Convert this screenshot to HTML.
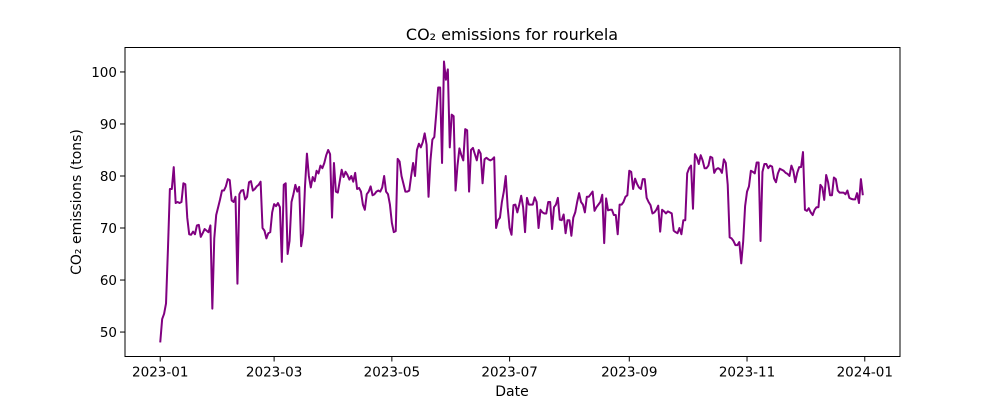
<!DOCTYPE html>
<html><head><meta charset="utf-8"><style>
body{margin:0;background:#fff;}
svg{display:block;font-family:"DejaVu Sans","Liberation Sans",sans-serif;}
</style></head><body>
<svg id="chart" width="1000" height="400">
<rect width="1000" height="400" fill="#fff"/>
<text x="512" y="40" text-anchor="middle" font-size="16">CO₂ emissions for rourkela</text>
<g id="plot"></g>
<text x="512" y="396" text-anchor="middle" font-size="14">Date</text>
<text transform="translate(81,202) rotate(-90)" text-anchor="middle" font-size="14">CO₂ emissions (tons)</text>
</svg>
<script>
const values = [48,52.5,53.5,55.5,66,77.5,77.5,81.7,74.8,75,
74.8,75,78.6,78.4,72,68.8,68.7,69.3,68.8,70.5,
70.6,68.3,69,69.8,69.5,69.2,70.5,54.5,68,72.5,
74,75.5,77.2,77.2,78,79.4,79.2,75.3,75,76,
59.3,76.5,77.2,77.3,75.5,76,78.8,79,77.2,77.5,
78,78.3,78.9,70,69.5,68,69,69.2,73,74.6,
74.2,74.8,74,63.5,78.3,78.6,65,67.5,75,76.5,
78.3,77,77.9,66.5,69,78,84.3,80,77.8,79.8,
79,81,80.5,82,81.5,82.5,84,85,84.2,72,
82.5,77,76.8,79,81.2,79.8,80.8,80.2,79.3,80,
78.9,80.6,77.5,77.7,77,74.5,73.5,76.5,77,78,
76.3,76.5,77,77.2,77,77.8,80,77,76.5,74.5,
71,69.2,69.4,83.3,82.8,80,78.5,77,77,77.2,
80,82.5,80,85,86.2,85.5,86.5,88.2,86,76,
83,87,87.5,92,97,97,82.5,102,98.5,100.5,
85.5,91.8,91.5,77.2,82,85.3,84,83,89,88.8,
77,85,85.4,84.2,83,85,84.3,78.6,83.2,83.5,
83.2,83,83.2,83.6,70,71.5,72,75,77,80,
74,70,68.7,74.4,74.5,73,74.5,76.2,74,69.2,
75.8,74.5,74.5,74.5,75.9,75,70,73.5,73,72.8,
72.8,75,75,69.8,74,74.5,75.8,71.6,71.5,72.6,
69,71.5,71.5,68.5,72,73,75,76.7,75,74.5,
73,76,76,76.5,77,73.3,74,74.5,75,76.4,
67.1,75.7,73.4,73.5,73.5,72.5,72.5,68.8,74.5,74.5,
75,76,76.3,81,80.8,77.5,79.5,78.5,77.8,77.5,
79.4,79.4,75.8,75,74.4,72.8,73,73.5,74.3,69.3,
73.5,73.2,72.8,73.2,73,72.8,69.5,69.2,69,70,
68.8,71.5,71.5,80.5,81.5,82,73.7,84.2,83.5,82.3,
84,83,81.5,81.5,82,83.7,83.5,80.6,81.3,81.5,
81.3,80.6,83.2,82.5,78.3,68.2,68,67.5,66.7,66.7,
67.3,63.2,67.4,74.2,77,78,81,80.8,80.5,82.6,
82.6,67.5,80.8,82.3,82.3,81.5,82,81.8,79.5,78.8,
80.5,81.4,81.2,81,80.6,80.4,80,82,81,78.8,
80.6,81.7,81.7,84.6,73.5,73.3,73.8,73,72.5,73.5,
74,74,78.3,77.8,75.4,80.2,78.8,76.3,76.3,79.7,
79.4,77.2,76.8,76.8,76.8,76.5,77.2,75.8,75.6,75.5,
75.5,76.7,74.8,79.4,76.3];
const xTickDays = [0,59,120,181,243,304,365];
const xTickLabels = ["2023-01","2023-03","2023-05","2023-07","2023-09","2023-11","2024-01"];
const yTicks = [50,60,70,80,90,100];

const L=125,R=900,T=47.5,B=356.5;
const dMin=-18.25,dMax=383.25;
const minV=Math.min(...values),maxV=Math.max(...values),pad=(maxV-minV)*0.05;
const vMin=minV-pad,vMax=maxV+pad;
const xs=d=>L+(d-dMin)/(dMax-dMin)*(R-L);
const ys=v=>B-(v-vMin)/(vMax-vMin)*(B-T);
const NS="http://www.w3.org/2000/svg";
const g=document.getElementById('plot');
function mk(t,a){const e=document.createElementNS(NS,t);for(const k in a)e.setAttribute(k,a[k]);g.appendChild(e);return e;}
let d='';
values.forEach((v,i)=>{d+=(i?'L':'M')+xs(i).toFixed(2)+','+ys(v).toFixed(2);});
const line=mk('path',{d:d,fill:'none',stroke:'#800080','stroke-width':2,'stroke-linejoin':'round'});


xTickDays.forEach((dd,i)=>{
  const x=xs(dd);
  const t=mk('line',{x1:x,x2:x,y1:B,y2:B+5,stroke:'#000','stroke-width':1});
  
  
  const lb=mk('text',{x:x,y:B+20,'text-anchor':'middle','font-size':13.5});
  lb.textContent=xTickLabels[i];
  
  
});
yTicks.forEach(v=>{
  const y=ys(v);
  const t=mk('line',{x1:L-5,x2:L,y1:y,y2:y,stroke:'#000','stroke-width':1});
  
  
  const lb=mk('text',{x:L-8,y:y+5,'text-anchor':'end','font-size':13.5});
  lb.textContent=v;
  
  
});
const frame=mk('rect',{x:L,y:T,width:R-L,height:B-T,fill:'none',stroke:'#000','stroke-width':1});


</script>
</body></html>
